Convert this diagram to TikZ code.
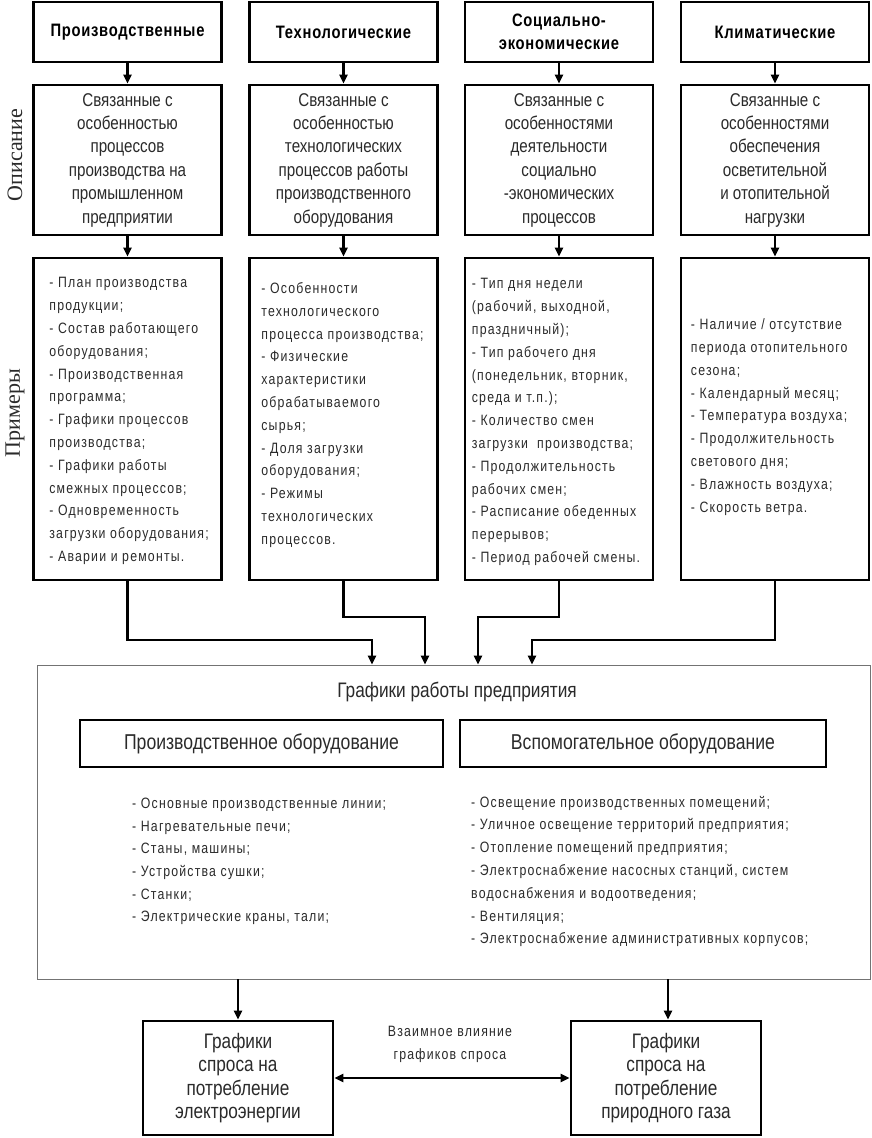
\documentclass[tikz,border=0pt]{standalone}
\usepackage{fontspec}
\setmainfont{Liberation Sans}[FakeStretch=0.82]
\newfontfamily\spfont{Liberation Sans}[FakeStretch=0.82,LetterSpace=8]
\newfontfamily\hdfont{Liberation Sans}[FakeStretch=0.82,LetterSpace=4]
\newfontfamily\lblfont{Liberation Serif}
\usetikzlibrary{arrows.meta}
\definecolor{txt}{HTML}{2A2A2A}
\begin{document}
\begin{tikzpicture}[x=1pt,y=-1pt,
  box/.style={draw=black,line width=2.6pt,minimum width=188pt,inner sep=0pt,align=center},
  hdr/.style={box,minimum height=60pt,font=\hdfont\bfseries\fontsize{18}{23}\selectfont},
  desc/.style={box,minimum height=150pt,font=\fontsize{18.5}{23.4}\selectfont,text=txt},
  exbox/.style={box,minimum height=322pt},
  list/.style={align=left,inner sep=0pt,anchor=west,font=\spfont\fontsize{15}{22.8}\selectfont,text=txt},
  side/.style={rotate=90,font=\lblfont\fontsize{22}{24}\selectfont,text=txt},
  conn/.style={line width=2.4pt,-{Triangle[length=9pt,width=8pt]}},
  inbox/.style={draw=black,line width=2.6pt,minimum height=47pt,inner sep=0pt,font=\fontsize{21.5}{24}\selectfont,text=txt},
  outbox/.style={draw=black,line width=2.6pt,minimum width=190pt,minimum height=114pt,inner sep=0pt,align=center,font=\fontsize{21}{23.3}\selectfont,text=txt}
]
\useasboundingbox (0,0) rectangle (872,1138);

% side labels
\node[side] (lopis) at (15,155) {Описание};
\node[side] (lprim) at (15,413) {Примеры};

% headers
\node[hdr] (h1) at (127.5,32) {Производственные};
\node[hdr] (h2) at (343.5,32) {Технологические};
\node[hdr] (h3) at (559,32) {Социально-\\экономические};
\node[hdr] (h4) at (775,32) {Климатические};

% descriptions
\node[desc] (d1) at (127.5,160) {Связанные с\\особенностью\\процессов\\производства на\\промышленном\\предприятии};
\node[desc] (d2) at (343.5,160) {Связанные с\\особенностью\\технологических\\процессов работы\\производственного\\оборудования};
\node[desc] (d3) at (559,160) {Связанные с\\особенностями\\деятельности\\социально\\-экономических\\процессов};
\node[desc] (d4) at (775,160) {Связанные с\\особенностями\\обеспечения\\осветительной\\и отопительной\\нагрузки};

% example boxes
\node[exbox] (e1) at (127.5,419) {};
\node[exbox] (e2) at (343.5,419) {};
\node[exbox] (e3) at (559,419) {};
\node[exbox] (e4) at (775,419) {};

\node[list] (t1) at ([xshift=17pt,yshift=-2pt]e1.west) {- План производства\\продукции;\\- Состав работающего\\оборудования;\\- Производственная\\программа;\\- Графики процессов\\производства;\\- Графики работы\\смежных процессов;\\- Одновременность\\загрузки оборудования;\\- Аварии и ремонты.};
\node[list] (t2) at ([xshift=13pt,yshift=4pt]e2.west) {- Особенности\\технологического\\процесса производства;\\- Физические\\характеристики\\обрабатываемого\\сырья;\\- Доля загрузки\\оборудования;\\- Режимы\\технологических\\процессов.};
\node[list] (t3) at ([xshift=8pt,yshift=-3pt]e3.west) {- Тип дня недели\\(рабочий, выходной,\\праздничный);\\- Тип рабочего дня\\(понедельник, вторник,\\среда и т.п.);\\- Количество смен\\загрузки~~производства;\\- Продолжительность\\рабочих смен;\\- Расписание обеденных\\перерывов;\\- Период рабочей смены.};
\node[list] (t4) at ([xshift=11pt,yshift=2pt]e4.west) {- Наличие / отсутствие\\периода отопительного\\сезона;\\- Календарный месяц;\\- Температура воздуха;\\- Продолжительность\\светового дня;\\- Влажность воздуха;\\- Скорость ветра.};

% big box
\node[draw=black!55,line width=0.9pt,minimum width=833pt,minimum height=314pt,inner sep=0pt] (big) at (453.5,822) {};
\node[font=\fontsize{21}{24}\selectfont,text=txt] (btitle) at (457,692) {Графики работы предприятия};
\node[inbox,minimum width=363pt] (pe) at (261.5,743.5) {Производственное оборудование};
\node[inbox,minimum width=366pt] (ve) at (643,743.5) {Вспомогательное оборудование};
\node[list,font=\spfont\fontsize{15}{22.7}\selectfont] (pl) at (132,861.5) {- Основные производственные линии;\\- Нагревательные печи;\\- Станы, машины;\\- Устройства сушки;\\- Станки;\\- Электрические краны, тали;};
\node[list,font=\spfont\fontsize{15}{22.8}\selectfont] (vl) at (471,871.5) {- Освещение производственных помещений;\\- Уличное освещение территорий предприятия;\\- Отопление помещений предприятия;\\- Электроснабжение насосных станций, систем\\водоснабжения и водоотведения;\\- Вентиляция;\\- Электроснабжение административных корпусов;};

% bottom boxes
\node[outbox] (eb) at (238,1078) {Графики\\спроса на\\потребление\\электроэнергии};
\node[outbox] (gb) at (666,1078) {Графики\\спроса на\\потребление\\природного газа};
\node[list,anchor=center,align=center] (mut) at (450,1044.5) {Взаимное влияние\\графиков спроса};

% connectors
\foreach \i in {1,2,3,4} {
  \draw[conn] (h\i.south) -- (d\i.north);
  \draw[conn] (d\i.south) -- (e\i.north);
}
\coordinate (k1) at (372,640);
\coordinate (k2) at (425,617);
\coordinate (k3) at (478,617);
\coordinate (k4) at (532,640);
\foreach \i in {1,2,3,4} {
  \draw[conn] (e\i.south) |- (k\i) -- (k\i |- big.north);
}
\draw[conn] (big.south -| eb.north) -- (eb.north);
\draw[conn] (big.south -| 668,0) -- (668,0 |- gb.north);
\draw[line width=2.4pt,{Triangle[length=9pt,width=8pt]}-{Triangle[length=9pt,width=8pt]}] (eb.east) -- (gb.west);
\end{tikzpicture}
\end{document}
